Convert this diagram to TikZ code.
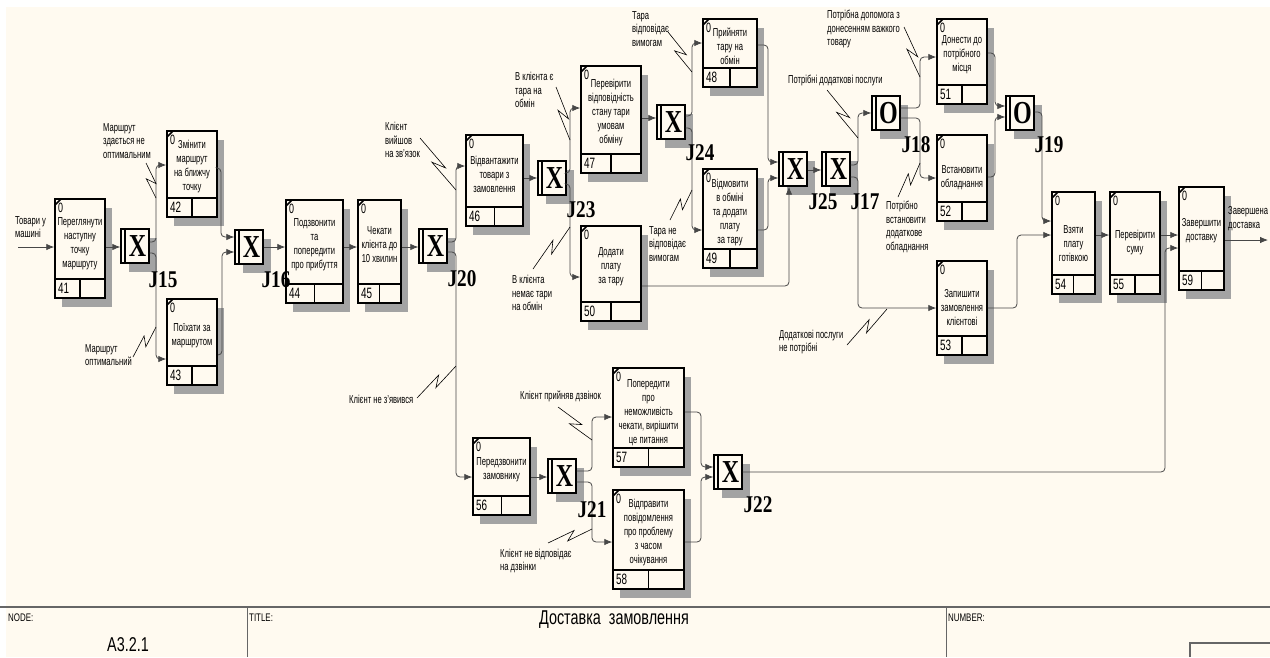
\documentclass[tikz,border=0pt]{standalone}
\usepackage{fontspec}
\setmainfont{Liberation Sans}[FakeStretch=0.66]
\newfontfamily\framefont{Liberation Sans}[FakeStretch=0.72]
\newfontfamily\jfont{Liberation Serif}[FakeStretch=0.8]
\newfontfamily\xfont{Liberation Serif}[FakeStretch=0.75]
\usetikzlibrary{arrows.meta,calc}
\definecolor{cream}{RGB}{255,250,240}
\tikzset{
 uobbox/.style={draw=black, line width=1.5pt, fill=cream, inner sep=0pt},
 jbox/.style={draw=black, line width=1.4pt, fill=cream, minimum width=28pt, minimum height=34pt, inner sep=0pt},
 shadowfill/.style={fill=black!36},
 conn/.style={draw=black!72, line width=0.8pt, rounded corners=4pt, -{Latex[length=8pt,width=6.5pt]}},
 squigline/.style={draw=black, line width=0.6pt},
 lbl/.style={font=\fontsize{11.5}{13.8}\selectfont, inner sep=0pt, align=left, anchor=west},
 btxt/.style={font=\fontsize{11.5}{14}\selectfont, inner sep=0pt, align=center},
 zero/.style={font=\fontsize{13.5}{13.5}\selectfont, inner sep=0pt},
 numt/.style={font=\fontsize{15}{15}\selectfont, inner sep=0pt},
 jlbl/.style={font=\jfont\bfseries\fontsize{24}{24}\selectfont, inner sep=0pt},
 jletter/.style={font=\xfont\bfseries\fontsize{32}{32}\selectfont, inner sep=0pt},
 frm/.style={font=\framefont\fontsize{11}{11}\selectfont, inner sep=0pt},
}
% name, x1, y1, x2, y2, number, text y, text
\newcommand\uob[8]{%
 \fill[shadowfill] (#2+7,#3+9) rectangle (#4+7,#5+9);
 \node[uobbox, minimum width={#4-#2}, minimum height={#5-#3}] (#1) at ({(#2+#4)/2},{(#3+#5)/2}) {};
 \draw[line width=1.3pt] (#2,#5-19) -- (#4,#5-19);
 \draw[line width=1.3pt] ({(#2+#4)/2},#5-19) -- ({(#2+#4)/2},#5);
 \draw[line width=1.7pt] (#2,#3+6) -- (#2+6,#3);
 \node[zero, anchor=north west] (#1z) at (#2+3,#3+4) {0};
 \node[numt, anchor=west] (#1n) at (#2+3,#5-9.5) {#6};
 \node[btxt] (#1t) at ({(#2+#4)/2},#7) {#8};
}
% name, x1, y1, letter
\newcommand\junc[4]{%
 \fill[shadowfill] (#2+8,#3+9) rectangle (#2+36,#3+43);
 \node[jbox] (#1) at (#2+14,#3+17) {};
 \draw[line width=1.2pt] (#2+4,#3) -- (#2+4,#3+34);
 \node[jletter] (#1x) at (#2+16.5,#3+17.5) {#4};
}
\newcommand\squig[2]{%
 \draw[squigline] (#1) -- ($(#1)!0.62!(#2)!4pt!90:(#2)$) -- ($(#1)!0.42!(#2)!4pt!-90:(#2)$) -- (#2);
}
\begin{document}
\begin{tikzpicture}[x=1pt,y=-1pt]
\useasboundingbox (0,0) rectangle (1270,657);
\fill[white] (0,0) rectangle (1270,657);
\fill[cream] (6,7) rectangle (1270,657);

% UOB boxes
\uob{b41}{55}{199}{105}{298}{41}{244}{Переглянути\\наступну\\точку\\маршруту}
\uob{b42}{167}{131}{217}{217}{42}{167}{Змінити\\маршрут\\на ближчу\\точку}
\uob{b43}{167}{299}{217}{385}{43}{336}{Поїхати за\\маршрутом}
\uob{b44}{286}{200}{343}{303}{44}{245}{Подзвонити\\та\\попередити\\про прибуття}
\uob{b45}{358}{200}{401}{303}{45}{245}{Чекати\\клієнта до\\10 хвилин}
\uob{b46}{466}{135}{523}{226}{46}{174}{Відвантажити\\товари з\\замовлення}
\uob{b47}{581}{66}{641}{173}{47}{113}{Перевірити\\відповідність\\стану тари\\умовам\\обміну}
\uob{b50}{581}{226}{641}{321}{50}{267}{Додати\\плату\\за тару}
\uob{b48}{703}{19}{757}{87}{48}{46}{Прийняти\\тару на\\обмін}
\uob{b49}{703}{169}{757}{268}{49}{213}{Відмовити\\в обміні\\та додати\\плату\\за тару}
\uob{b51}{937}{19}{987}{104}{51}{55}{Донести до\\потрібного\\місця}
\uob{b52}{937}{135}{987}{221}{52}{178}{Встановити\\обладнання}
\uob{b53}{937}{261}{987}{355}{53}{308}{Запишити\\замовлення\\клієнтові}
\uob{b54}{1052}{192}{1095}{294}{54}{244}{Взяти\\плату\\готівкою}
\uob{b55}{1110}{192}{1160}{294}{55}{243}{Перевірити\\суму}
\uob{b59}{1179}{187}{1224}{290}{59}{231}{Завершити\\доставку}
\uob{b56}{473}{438}{530}{515}{56}{470}{Передзвонити\\замовнику}
\uob{b57}{613}{368}{684}{467}{57}{413}{Попередити\\про\\неможливість\\чекати, вирішити\\це питання}
\uob{b58}{613}{490}{684}{589}{58}{533}{Відправити\\повідомлення\\про проблему\\з часом\\очікування}

% junctions
\junc{J15}{121}{229}{X}
\junc{J16}{235}{230}{X}
\junc{J20}{419}{229}{X}
\junc{J23}{538}{161}{X}
\junc{J24}{657}{105}{X}
\junc{J25}{779}{152}{X}
\junc{J17}{822}{152}{X}
\junc{J18}{872}{96}{O}
\junc{J19}{1006}{96}{O}
\junc{J21}{548}{459}{X}
\junc{J22}{714}{455}{X}

% connectors
\coordinate (in41) at (18,247);
\coordinate (out59) at (1268,240);
\draw[conn] (in41) -- (b41.west |- in41);
\draw[conn] (b41.east |- 0,247) -- (J15.west |- 0,247);
\draw[conn] (J15.east |- 0,242) -- (156,242) -- (156,165) -- (b42.west |- 0,165);
\draw[conn] (J15.east |- 0,253) -- (156,253) -- (156,359) -- (b43.west |- 0,359);
\draw[conn] (b42.east |- 0,168) -- (221,168) -- (221,237) -- (J16.west |- 0,237);
\draw[conn] (b43.east |- 0,355) -- (222,355) -- (222,252) -- (J16.west |- 0,252);
\draw[conn] (J16.east |- 0,247) -- (b44.west |- 0,247);
\draw[conn] (b44.east |- 0,247) -- (b45.west |- 0,247);
\draw[conn] (b45.east |- 0,247) -- (J20.west |- 0,247);
\draw[conn] (J20.east |- 0,242) -- (456,242) -- (456,166) -- (b46.west |- 0,166);
\draw[conn] (J20.east |- 0,252) -- (456,252) -- (456,477) -- (b56.west |- 0,477);
\draw[conn] (b46.east |- 0,178) -- (J23.west |- 0,178);
\draw[conn] (J23.east |- 0,173) -- (570,173) -- (570,108) -- (b47.west |- 0,108);
\draw[conn] (J23.east |- 0,184) -- (570,184) -- (570,277) -- (b50.west |- 0,277);
\draw[conn] (b47.east |- 0,118) -- (J24.west |- 0,118);
\draw[conn] (J24.east |- 0,116) -- (692,116) -- (692,43) -- (b48.west |- 0,43);
\draw[conn] (J24.east |- 0,128) -- (692,128) -- (692,230) -- (b49.west |- 0,230);
\draw[conn] (b48.east |- 0,45) -- (768,45) -- (768,162) -- (J25.west |- 0,162);
\draw[conn] (b49.east |- 0,230) -- (768,230) -- (768,178) -- (J25.west |- 0,178);
\draw[conn] (b50.east |- 0,286) -- (789,286) -- (J25.south -| 789,0);
\draw[conn] (J25.east |- 0,170) -- (J17.west |- 0,170);
\draw[conn] (J17.east |- 0,165) -- (858,165) -- (858,113) -- (J18.west |- 0,113);
\draw[conn] (J17.east |- 0,177) -- (858,177) -- (858,308) -- (b53.west |- 0,308);
\draw[conn] (J18.east |- 0,108) -- (920,108) -- (920,57) -- (b51.west |- 0,57);
\draw[conn] (J18.east |- 0,118) -- (920,118) -- (920,178) -- (b52.west |- 0,178);
\draw[conn] (b51.east |- 0,53) -- (995,53) -- (995,106) -- (J19.west |- 0,106);
\draw[conn] (b52.east |- 0,177) -- (995,177) -- (995,117) -- (J19.west |- 0,117);
\draw[conn] (J19.east |- 0,112) -- (1042,112) -- (1042,221) -- (b54.west |- 0,221);
\draw[conn] (b53.east |- 0,308) -- (1017,308) -- (1017,235) -- (b54.west |- 0,235);
\draw[conn] (b54.east |- 0,235) -- (b55.west |- 0,235);
\draw[conn] (b55.east |- 0,235) -- (b59.west |- 0,235);
\draw[conn] (J22.east |- 0,472) -- (1165,472) -- (1165,248) -- (b59.west |- 0,248);
\draw[conn] (b59.east |- out59) -- (out59);
\draw[conn] (b56.east |- 0,477) -- (J21.west |- 0,477);
\draw[conn] (J21.east |- 0,471) -- (592,471) -- (592,417) -- (b57.west |- 0,417);
\draw[conn] (J21.east |- 0,482) -- (592,482) -- (592,542) -- (b58.west |- 0,542);
\draw[conn] (b57.east |- 0,412) -- (701,412) -- (701,467) -- (J22.west |- 0,467);
\draw[conn] (b58.east |- 0,542) -- (701,542) -- (701,477) -- (J22.west |- 0,477);

% arrow labels
\node[lbl] (L1) at (15,227) {Товари у\\машині};
\node[lbl] (L2) at (103,141) {Маршрут\\здається не\\оптимальним};
\node[lbl] (L3) at (85,355) {Маршрут\\оптимальний};
\node[lbl] (L4) at (385,140) {Клієнт\\вийшов\\на зв'язок};
\node[lbl] (L5) at (349,399) {Клієнт не з'явився};
\node[lbl] (L6) at (515,90) {В клієнта є\\тара на\\обмін};
\node[lbl] (L7) at (512,293) {В клієнта\\немає тари\\на обмін};
\node[lbl] (L8) at (632,29) {Тара\\відповідає\\вимогам};
\node[lbl] (L9) at (649,244) {Тара не\\відповідає\\вимогам};
\node[lbl] (L10) at (788,80) {Потрібні додаткові послуги};
\node[lbl] (L11) at (827,29) {Потрібна допомога з\\донесенням важкого\\товару};
\node[lbl] (L12) at (886,227) {Потрібно\\встановити\\додаткове\\обладнання};
\node[lbl] (L13) at (779,342) {Додаткові послуги\\не потрібні};
\node[lbl] (L14) at (1228,219) {Завершена\\доставка};
\node[lbl] (L15) at (520,396) {Клієнт прийняв дзвінок};
\node[lbl] (L16) at (500,561) {Клієнт не відповідає\\на дзвінки};

% squiggles
\squig{146,163}{156,198}
\squig{133,357}{156,327}
\squig{420,138}{456,190}
\squig{417,398}{456,366}
\squig{556,87}{570,140}
\squig{533,269}{570,227}
\squig{668,32}{692,72}
\squig{670,220}{692,190}
\squig{827,90}{858,138}
\squig{904,27}{920,77}
\squig{898,197}{920,163}
\squig{847,345}{887,309}
\squig{558,407}{592,440}
\squig{548,543}{592,529}

% junction labels
\node[jlbl] (J15l) at (163,280) {J15};
\node[jlbl] (J16l) at (276,280) {J16};
\node[jlbl] (J20l) at (462,279) {J20};
\node[jlbl] (J23l) at (581,210) {J23};
\node[jlbl] (J24l) at (700,153) {J24};
\node[jlbl] (J25l) at (823,202) {J25};
\node[jlbl] (J17l) at (865,202) {J17};
\node[jlbl] (J18l) at (916,145) {J18};
\node[jlbl] (J19l) at (1049,145) {J19};
\node[jlbl] (J21l) at (592,510) {J21};
\node[jlbl] (J22l) at (758,505) {J22};

% frame
\draw[black!60, line width=1.6pt] (0,607) -- (1270,607);
\draw[black!60, line width=0.8pt] (247,607) -- (247,657);
\draw[black!60, line width=0.8pt] (946,607) -- (946,657);
\draw[black!60, line width=1.2pt] (1190,657) -- (1190,643) -- (1270,643);
\node[frm, anchor=west] (fnode) at (8,618) {NODE:};
\node[frm, anchor=west] (ftitle) at (249,618) {TITLE:};
\node[frm, anchor=west] (fnum) at (948,618) {NUMBER:};
\node[font=\framefont\fontsize{20}{20}\selectfont, inner sep=0pt] (fa) at (128,645) {A3.2.1};
\node[font=\framefont\fontsize{20}{20}\selectfont, inner sep=0pt] (ftt) at (614,620) {Доставка\ \ замовлення};
\end{tikzpicture}
\end{document}
